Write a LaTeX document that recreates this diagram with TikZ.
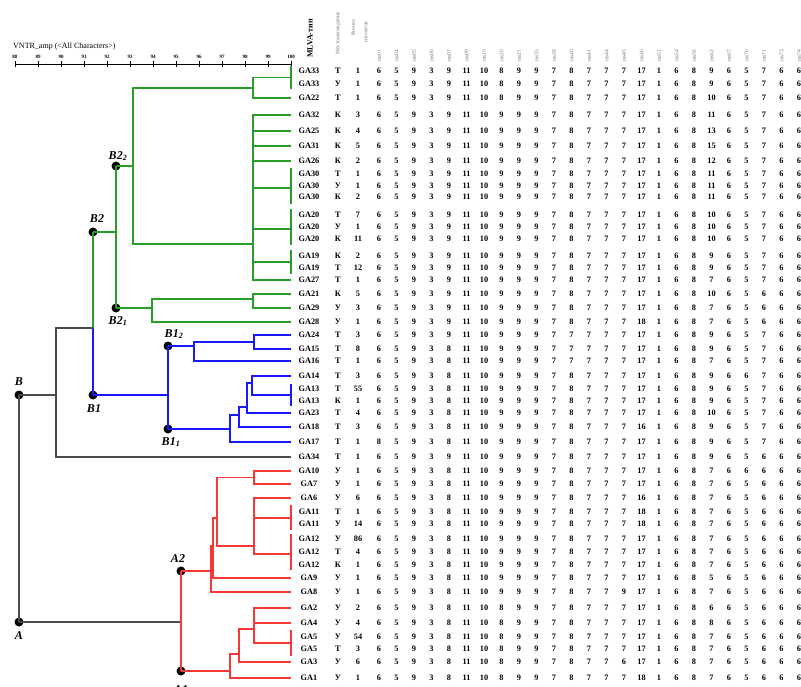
\documentclass[tikz,border=0pt]{standalone}
\usepackage{fontspec}
\setmainfont{Liberation Serif}
\definecolor{tgreen}{RGB}{40,160,40}
\definecolor{tblue}{RGB}{25,25,255}
\definecolor{tred}{RGB}{250,55,55}
\definecolor{tgray}{RGB}{75,75,75}
\definecolor{hgray}{RGB}{120,120,120}
\begin{document}
\begin{tikzpicture}[x=1pt,y=-1pt,
  gl/.style={draw=tgreen,line width=1.5pt},
  bl/.style={draw=tblue,line width=1.5pt},
  rl/.style={draw=tred,line width=1.5pt},
  kl/.style={draw=tgray,line width=1.5pt},
  dot/.style={circle,fill=black,inner sep=0pt,minimum size=9pt},
  nlab/.style={font=\fontsize{12}{12}\selectfont\bfseries\itshape,inner sep=0pt},
  cell/.style={font=\fontsize{8.3}{9}\selectfont\bfseries,inner sep=0pt},
  hdr/.style={rotate=90,anchor=west,font=\fontsize{5.5}{6}\selectfont,text=hgray,inner sep=0pt},
  tick/.style={font=\fontsize{5}{5}\selectfont\bfseries,inner sep=0pt}]
\useasboundingbox (0,0) rectangle (801,686);
\fill[white] (0,0) rectangle (801,686);

% scale
\node[anchor=west,font=\fontsize{8}{8}\selectfont,inner sep=0pt] (title) at (13,47) {VNTR\_amp (<All Characters>)};
\draw[line width=0.9pt] (15,64) -- (291,64);
\foreach \v [count=\i from 0] in {88,89,90,91,92,93,94,95,96,97,98,99,100}{
  \draw[line width=0.7pt] ({15+23*\i},61) -- ({15+23*\i},67);
  \node[tick] (t\i) at ({15+23*\i},57) {\v};
}

% headers
\node[rotate=90,anchor=west,font=\fontsize{8}{8}\selectfont\bfseries,inner sep=0pt] (hM) at (310,58) {MLVA-тип};
\node[hdr] (hL) at (338,55) {Местонахождение};
\node[hdr,anchor=center] (hK1) at (353,28) {Кол-во};
\node[hdr,anchor=center] (hK2) at (366,32) {изолятов};
\foreach \h [count=\c] in {ms01,ms04,ms05,ms06,ms07,ms09,ms15,ms20,ms21,ms35,ms38,ms40,ms41,ms44,ms45,ms46,ms51,ms54,ms56,ms62,ms67,ms70,ms71,ms73,ms74}{
  \node[hdr] (h\c) at ({379+17.5*(\c-1)},62) {\h};
}

% table rows
\foreach \y/\nm/\lc/\ct/\vals [count=\r] in {
71/GA33/Т/1/{6,5,9,3,9,11,10,8,9,9,7,8,7,7,7,17,1,6,8,9,6,5,7,6,6},
84/GA33/У/1/{6,5,9,3,9,11,10,8,9,9,7,8,7,7,7,17,1,6,8,9,6,5,7,6,6},
98/GA22/Т/1/{6,5,9,3,9,11,10,8,9,9,7,8,7,7,7,17,1,6,8,10,6,5,7,6,6},
115/GA32/К/3/{6,5,9,3,9,11,10,9,9,9,7,8,7,7,7,17,1,6,8,11,6,5,7,6,6},
131/GA25/К/4/{6,5,9,3,9,11,10,9,9,9,7,8,7,7,7,17,1,6,8,13,6,5,7,6,6},
146/GA31/К/5/{6,5,9,3,9,11,10,9,9,9,7,8,7,7,7,17,1,6,8,15,6,5,7,6,6},
161/GA26/К/2/{6,5,9,3,9,11,10,9,9,9,7,8,7,7,7,17,1,6,8,12,6,5,7,6,6},
174/GA30/Т/1/{6,5,9,3,9,11,10,9,9,9,7,8,7,7,7,17,1,6,8,11,6,5,7,6,6},
186/GA30/У/1/{6,5,9,3,9,11,10,9,9,9,7,8,7,7,7,17,1,6,8,11,6,5,7,6,6},
197/GA30/К/2/{6,5,9,3,9,11,10,9,9,9,7,8,7,7,7,17,1,6,8,11,6,5,7,6,6},
215/GA20/Т/7/{6,5,9,3,9,11,10,9,9,9,7,8,7,7,7,17,1,6,8,10,6,5,7,6,6},
227/GA20/У/1/{6,5,9,3,9,11,10,9,9,9,7,8,7,7,7,17,1,6,8,10,6,5,7,6,6},
239/GA20/К/11/{6,5,9,3,9,11,10,9,9,9,7,8,7,7,7,17,1,6,8,10,6,5,7,6,6},
256/GA19/К/2/{6,5,9,3,9,11,10,9,9,9,7,8,7,7,7,17,1,6,8,9,6,5,7,6,6},
268/GA19/Т/12/{6,5,9,3,9,11,10,9,9,9,7,8,7,7,7,17,1,6,8,9,6,5,7,6,6},
280/GA27/Т/1/{6,5,9,3,9,11,10,9,9,9,7,8,7,7,7,17,1,6,8,7,6,5,7,6,6},
294/GA21/К/5/{6,5,9,3,9,11,10,9,9,9,7,8,7,7,7,17,1,6,8,10,6,5,6,6,6},
308/GA29/У/3/{6,5,9,3,9,11,10,9,9,9,7,8,7,7,7,17,1,6,8,7,6,5,6,6,6},
322/GA28/У/1/{6,5,9,3,9,11,10,9,9,9,7,8,7,7,7,18,1,6,8,7,6,5,6,6,6},
335/GA24/Т/3/{6,5,9,3,9,11,10,9,9,9,7,7,7,7,7,17,1,6,8,9,6,5,7,6,6},
349/GA15/Т/8/{6,5,9,3,8,11,10,9,9,9,7,7,7,7,7,17,1,6,8,9,6,5,7,6,6},
361/GA16/Т/1/{6,5,9,3,8,11,10,9,9,9,7,7,7,7,7,17,1,6,8,7,6,5,7,6,6},
376/GA14/Т/3/{6,5,9,3,8,11,10,9,9,9,7,8,7,7,7,17,1,6,8,9,6,6,7,6,6},
389/GA13/Т/55/{6,5,9,3,8,11,10,9,9,9,7,8,7,7,7,17,1,6,8,9,6,5,7,6,6},
401/GA13/К/1/{6,5,9,3,8,11,10,9,9,9,7,8,7,7,7,17,1,6,8,9,6,5,7,6,6},
413/GA23/Т/4/{6,5,9,3,8,11,10,9,9,9,7,8,7,7,7,17,1,6,8,10,6,5,7,6,6},
427/GA18/Т/3/{6,5,9,3,8,11,10,9,9,9,7,8,7,7,7,16,1,6,8,9,6,5,7,6,6},
442/GA17/Т/1/{8,5,9,3,8,11,10,9,9,9,7,8,7,7,7,17,1,6,8,9,6,5,7,6,6},
457/GA34/Т/1/{6,5,9,3,9,11,10,9,9,9,7,8,7,7,7,17,1,6,8,9,6,5,6,6,6},
471/GA10/У/1/{6,5,9,3,8,11,10,9,9,9,7,8,7,7,7,17,1,6,8,7,6,6,6,6,6},
484/GA7/У/1/{6,5,9,3,8,11,10,9,9,9,7,8,7,7,7,17,1,6,8,7,6,5,6,6,6},
498/GA6/У/6/{6,5,9,3,8,11,10,9,9,9,7,8,7,7,7,16,1,6,8,7,6,5,6,6,6},
512/GA11/Т/1/{6,5,9,3,8,11,10,9,9,9,7,8,7,7,7,18,1,6,8,7,6,5,6,6,6},
524/GA11/У/14/{6,5,9,3,8,11,10,9,9,9,7,8,7,7,7,18,1,6,8,7,6,5,6,6,6},
539/GA12/У/86/{6,5,9,3,8,11,10,9,9,9,7,8,7,7,7,17,1,6,8,7,6,5,6,6,6},
552/GA12/Т/4/{6,5,9,3,8,11,10,9,9,9,7,8,7,7,7,17,1,6,8,7,6,5,6,6,6},
565/GA12/К/1/{6,5,9,3,8,11,10,9,9,9,7,8,7,7,7,17,1,6,8,7,6,5,6,6,6},
578/GA9/У/1/{6,5,9,3,8,11,10,9,9,9,7,8,7,7,7,17,1,6,8,5,6,5,6,6,6},
592/GA8/У/1/{6,5,9,3,8,11,10,9,9,9,7,8,7,7,9,17,1,6,8,7,6,5,6,6,6},
608/GA2/У/2/{6,5,9,3,8,11,10,8,9,9,7,8,7,7,7,17,1,6,8,6,6,5,6,6,6},
623/GA4/У/4/{6,5,9,3,8,11,10,8,9,9,7,8,7,7,7,17,1,6,8,8,6,5,6,6,6},
637/GA5/У/54/{6,5,9,3,8,11,10,8,9,9,7,8,7,7,7,17,1,6,8,7,6,5,6,6,6},
649/GA5/Т/3/{6,5,9,3,8,11,10,8,9,9,7,8,7,7,7,17,1,6,8,7,6,5,6,6,6},
662/GA3/У/6/{6,5,9,3,8,11,10,8,9,9,7,8,7,7,6,17,1,6,8,7,6,5,6,6,6},
678/GA1/У/1/{6,5,9,3,8,11,10,8,9,9,7,8,7,7,7,18,1,6,8,7,6,5,6,6,6}}{
  \coordinate (e\r) at (291,\y);
  \node[cell] (n\r) at (309,\y) {\nm};
  \node[cell] (l\r) at (338,\y) {\lc};
  \node[cell] (q\r) at (358,\y) {\ct};
  \foreach \v [count=\c] in \vals {
    \node[cell] (c\r-\c) at ({379+17.5*(\c-1)},\y) {\v};
  }
}

% ---------- green ----------
\coordinate (p33) at (291,77.5);
\coordinate (p30) at (291,188);
\coordinate (p20) at (291,229);
\coordinate (p19) at (291,262);
\draw[gl] (291,66) -- (291,89);
\draw[gl] (291,168) -- (291,204);
\draw[gl] (291,209) -- (291,245);
\draw[gl] (291,250) -- (291,274);
\coordinate (g1) at (253,88);
\draw[gl] (g1) |- (p33);
\draw[gl] (g1) |- (e3);
\coordinate (g2) at (253,244);
\foreach \t in {e4,e5,e6,e7,p30,p20,p19,e16} \draw[gl] (g2) |- (\t);
\coordinate (g3) at (133,166);
\draw[gl] (g3) |- (g1);
\draw[gl] (g3) |- (g2);
\node[dot] (B22) at (116,166) {};
\node[dot] (B21) at (116,308) {};
\node[dot] (B2) at (93,232) {};
\draw[gl] (B22.center) -- (g3);
\coordinate (g4) at (152,308);
\coordinate (g5) at (253,299);
\draw[gl] (B21.center) -- (g4);
\draw[gl] (g4) |- (g5);
\draw[gl] (g5) |- (e17);
\draw[gl] (g5) |- (e18);
\draw[gl] (g4) |- (e19);
\coordinate (g6) at (116,232);
\draw[gl] (B2.center) -- (g6);
\draw[gl] (B22.center) -- (B21.center);
\coordinate (g7) at (93,328);
\draw[gl] (B2.center) -- (g7);

% ---------- blue ----------
\node[dot] (B1) at (93,395) {};
\node[dot] (B12) at (168,346) {};
\node[dot] (B11) at (168,429) {};
\draw[bl] (g7) -- (B1.center);
\coordinate (j1) at (168,395);
\draw[bl] (B1.center) -- (j1);
\draw[bl] (B12.center) -- (B11.center);
\coordinate (j2) at (194,346);
\coordinate (j3) at (254,342);
\draw[bl] (B12.center) -- (j2);
\draw[bl] (j2) |- (j3);
\draw[bl] (j3) |- (e20);
\draw[bl] (j3) |- (e21);
\draw[bl] (j2) |- (e22);
\coordinate (j4) at (230,429);
\coordinate (j5) at (239,415);
\coordinate (j6) at (247,407);
\coordinate (j7) at (252,383);
\coordinate (p13) at (291,395);
\draw[bl] (291,384) -- (291,406);
\draw[bl] (B11.center) -- (j4);
\draw[bl] (j4) |- (e28);
\draw[bl] (j4) |- (j5);
\draw[bl] (j5) |- (e27);
\draw[bl] (j5) |- (j6);
\draw[bl] (j6) |- (e26);
\draw[bl] (j6) |- (j7);
\draw[bl] (j7) |- (e23);
\draw[bl] (j7) |- (p13);

% ---------- gray ----------
\node[dot] (B) at (19,395) {};
\node[dot] (A) at (19,622) {};
\coordinate (k1) at (56,395);
\coordinate (k2) at (181,622);
\draw[kl] (B.center) -- (k1);
\draw[kl] (k1) |- (g7);
\draw[kl] (k1) |- (e29);
\draw[kl] (B.center) -- (A.center);
\draw[kl] (A.center) -- (k2);

% ---------- red ----------
\node[dot] (A2) at (181,571) {};
\node[dot] (A1) at (181,671) {};
\draw[rl] (A2.center) -- (A1.center);
\coordinate (r1) at (211,571);
\coordinate (r2) at (213,546);
\coordinate (r3) at (217,518);
\coordinate (r4) at (254,477.5);
\coordinate (r5) at (254,546);
\coordinate (p11) at (291,518);
\coordinate (p12) at (291,554);
\draw[rl] (291,505) -- (291,530);
\draw[rl] (291,534) -- (291,570);
\draw[rl] (A2.center) -- (r1);
\draw[rl] (r1) |- (e39);
\draw[rl] (r1) |- (r2);
\draw[rl] (r2) |- (e38);
\draw[rl] (r2) |- (r3);
\draw[rl] (r3) |- (r4);
\draw[rl] (r3) |- (r5);
\draw[rl] (r4) |- (e30);
\draw[rl] (r4) |- (e31);
\draw[rl] (r5) |- (e32);
\draw[rl] (r5) |- (p11);
\draw[rl] (r5) |- (p12);
\coordinate (s1) at (230,671);
\coordinate (s2) at (239,654);
\coordinate (s3) at (254,629);
\coordinate (p5) at (291,643);
\draw[rl] (291,630) -- (291,656);
\draw[rl] (A1.center) -- (s1);
\draw[rl] (s1) |- (e45);
\draw[rl] (s1) |- (s2);
\draw[rl] (s2) |- (e44);
\draw[rl] (s2) |- (s3);
\draw[rl] (s3) |- (e40);
\draw[rl] (s3) |- (e41);
\draw[rl] (s3) |- (p5);

% ---------- node labels ----------
\node[nlab] (LB22) at (118,156) {B2\textsubscript{2}};
\node[nlab] (LB2) at (97,219) {B2};
\node[nlab] (LB21) at (118,321) {B2\textsubscript{1}};
\node[nlab] (LB12) at (174,334) {B1\textsubscript{2}};
\node[nlab] (LB) at (19,382) {B};
\node[nlab] (LB1) at (94,409) {B1};
\node[nlab] (LB11) at (171,442) {B1\textsubscript{1}};
\node[nlab] (LA2) at (178,559) {A2};
\node[nlab] (LA) at (19,636) {A};
\node[nlab] (LA1) at (181,690) {A1};
\end{tikzpicture}
\end{document}
